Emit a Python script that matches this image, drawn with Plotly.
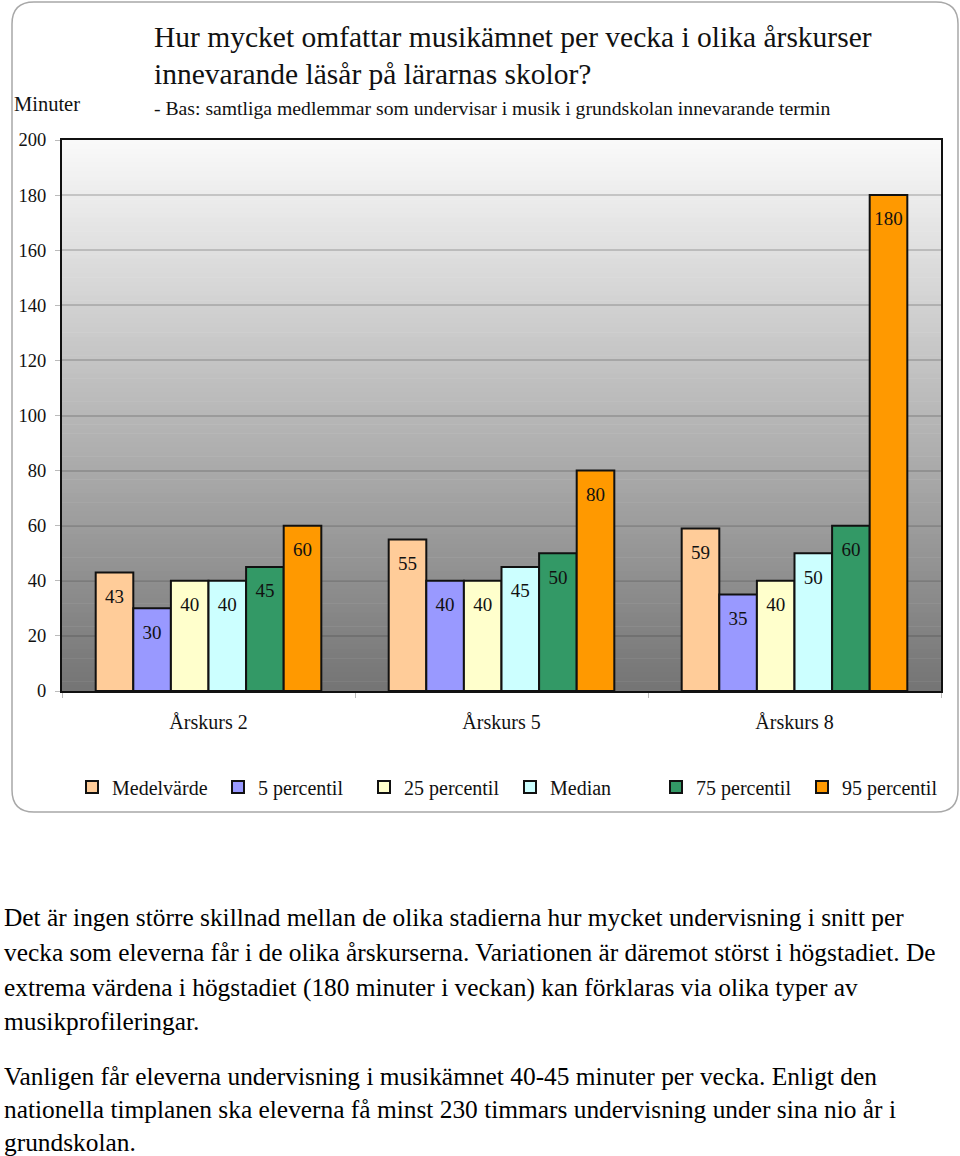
import plotly.graph_objects as go

categories = ["Årskurs 2", "Årskurs 5", "Årskurs 8"]
series_names = ["Medelvärde", "5 percentil", "25 percentil", "Median", "75 percentil", "95 percentil"]
medelvarde = [43, 55, 59]
p5 = [30, 40, 35]
p25 = [40, 40, 40]
median = [40, 45, 50]
p75 = [45, 50, 60]
p95 = [60, 80, 180]
series_values = [medelvarde, p5, p25, median, p75, p95]
colors = ["#FFCC99", "#9999FF", "#FFFFCC", "#CCFFFF", "#339966", "#FF9900"]
y_ticks = [0, 20, 40, 60, 80, 100, 120, 140, 160, 180, 200]

title_lines = ["Hur mycket omfattar musikämnet per vecka i olika årskurser",
               "innevarande läsår på lärarnas skolor?"]
subtitle = "- Bas: samtliga medlemmar som undervisar i musik i grundskolan innevarande termin"
body_lines = [
    "Det är ingen större skillnad mellan de olika stadierna hur mycket undervisning i snitt per",
    "vecka som eleverna får i de olika årskurserna. Variationen är däremot störst i högstadiet. De",
    "extrema värdena i högstadiet (180 minuter i veckan) kan förklaras via olika typer av",
    "musikprofileringar.",
    "Vanligen får eleverna undervisning i musikämnet 40-45 minuter per vecka. Enligt den",
    "nationella timplanen ska eleverna få minst 230 timmars undervisning under sina nio år i",
    "grundskolan.",
]
body_y_px = [917, 952, 987, 1021, 1076, 1109, 1142]

W, H = 960, 1156
L, R, T, B = 62, 941, 140, 691
FONT = "Liberation Serif, Times New Roman, serif"
BARGAP = 0.23

def px(x):
    return (x - L) / (R - L)

def py(y):
    return (B - y) / (B - T)

fig = go.Figure()
for name, vals, col in zip(series_names, series_values, colors):
    fig.add_trace(go.Bar(
        x=categories, y=vals, name=name, offsetgroup=name,
        marker=dict(color=col, line=dict(color="#111111", width=2)),
        hoverinfo="x+y+name",
    ))
# data labels placed just inside the top of each bar
for name, vals in zip(series_names, series_values):
    fig.add_trace(go.Scatter(
        x=categories, y=vals, offsetgroup=name, mode="markers+text",
        marker=dict(size=24, opacity=0), text=[str(v) for v in vals],
        textposition="bottom center",
        textfont=dict(family=FONT, size=19, color="#111111"),
        showlegend=False, hoverinfo="skip", cliponaxis=False,
    ))

shapes = []
n = 120
for i in range(n):
    t = (i + 0.5) / n
    g = int(round(250 - (250 - 116) * t))
    shapes.append(dict(type="rect", xref="x domain", yref="y domain",
                       x0=0, x1=1, y0=1 - (i + 1) / n, y1=1 - i / n + 0.001,
                       fillcolor=f"rgb({g},{g},{g})", line=dict(width=0), layer="below"))

x0, x1, y0, y1, r = 12, 958, 2, 812, 22
def P(x, y):
    return f"{px(x):.5f},{py(y):.5f}"
path = (f"M {P(x0 + r, y0)} L {P(x1 - r, y0)} Q {P(x1, y0)} {P(x1, y0 + r)} "
        f"L {P(x1, y1 - r)} Q {P(x1, y1)} {P(x1 - r, y1)} "
        f"L {P(x0 + r, y1)} Q {P(x0, y1)} {P(x0, y1 - r)} "
        f"L {P(x0, y0 + r)} Q {P(x0, y0)} {P(x0 + r, y0)} Z")
shapes.append(dict(type="path", xref="paper", yref="paper", path=path,
                   line=dict(color="#a8a8a8", width=1.5), layer="below"))

annotations = []
for line, y in zip(title_lines, [37, 74]):
    annotations.append(dict(text=line, xref="paper", yref="paper", x=px(152), y=py(y),
                            xanchor="left", yanchor="middle", showarrow=False,
                            font=dict(family=FONT, size=29.5, color="#111111")))
annotations.append(dict(text=subtitle, xref="paper", yref="paper", x=px(152), y=py(108),
                        xanchor="left", yanchor="middle", showarrow=False,
                        font=dict(family=FONT, size=19.7, color="#111111")))
annotations.append(dict(text="Minuter", xref="paper", yref="paper", x=px(12), y=py(104),
                        xanchor="left", yanchor="middle", showarrow=False,
                        font=dict(family=FONT, size=20.5, color="#111111")))
for line, y in zip(body_lines, body_y_px):
    annotations.append(dict(text=line, xref="paper", yref="paper", x=px(2), y=py(y),
                            xanchor="left", yanchor="middle", showarrow=False,
                            font=dict(family=FONT, size=25.4, color="#000000")))

fig.update_layout(
    width=W, height=H,
    margin=dict(l=L, r=W - R, t=T, b=H - B, autoexpand=False),
    paper_bgcolor="white", plot_bgcolor="rgba(0,0,0,0)",
    barmode="group", bargap=BARGAP, bargroupgap=0,
    scattermode="group", scattergap=BARGAP,
    font=dict(family=FONT, size=20, color="#111111"),
    showlegend=True,
    legend=dict(orientation="h", x=px(72), xanchor="left", y=py(787), yanchor="middle",
                entrywidth=101, entrywidthmode="pixels",
                font=dict(family=FONT, size=20, color="#111111"), bgcolor="rgba(0,0,0,0)",
                itemclick=False, itemdoubleclick=False),
    shapes=shapes, annotations=annotations,
)
fig.update_yaxes(range=[0, 200], tickvals=y_ticks, showgrid=True,
                 gridcolor="rgba(60,60,60,0.22)", gridwidth=1.5,
                 ticks="outside", ticklen=5, tickcolor="#bbbbbb", ticklabelstandoff=5,
                 showline=True, linecolor="#111111", linewidth=2, mirror=True,
                 zeroline=False, tickfont=dict(family=FONT, size=18.5, color="#111111"))
fig.update_xaxes(showgrid=False, ticks="outside", tickson="boundaries", ticklen=5,
                 tickcolor="#bbbbbb", showline=True, linecolor="#111111", linewidth=2,
                 mirror=True, ticklabelstandoff=12,
                 tickfont=dict(family=FONT, size=20, color="#111111"))

fig.write_html("out.html", config={"displayModeBar": False},
               post_script="document.body.style.margin='0';document.body.style.overflow='hidden';")
